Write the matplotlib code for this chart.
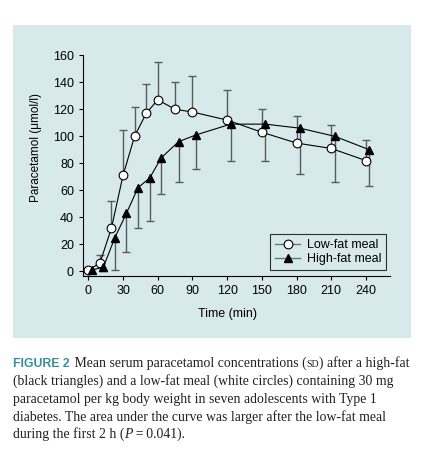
import numpy as np
import matplotlib
matplotlib.use('Agg')
import matplotlib.pyplot as plt
from matplotlib.patches import Rectangle

# sampling times (min)
times = np.array([0, 10, 20, 30, 40, 50, 60, 75, 90, 120, 150, 180, 210, 240])

# low-fat meal: mean and upper SD (umol/l)
low_fat_mean = np.array([1, 6, 32, 71, 100, 117, 127, 120, 118, 112, 103, 95, 91, 82])
low_fat_sd = np.array([0, 6, 20, 34, 22, 22, 28, 20, 27, 22, 17, 20, 17, 15])

# high-fat meal: mean and lower SD (umol/l)
high_fat_mean = np.array([1, 3, 25, 43, 62, 69, 84, 96, 101, 109, 109, 106, 100, 90])
high_fat_sd = np.array([0, 3, 24, 29, 30, 32, 27, 30, 25, 27, 27, 34, 34, 27])

xticks = [0, 30, 60, 90, 120, 150, 180, 210, 240]
yticks = [0, 20, 40, 60, 80, 100, 120, 140, 160]

W, H = 433, 469
fig = plt.figure(figsize=(W / 100, H / 100), dpi=100)
fig.patch.set_facecolor('white')

def fx(px):
    return px / W

def fy(py):
    return 1 - py / H

# light blue panel behind the chart
fig.patches.append(Rectangle((fx(13), fy(338)), fx(411) - fx(13), fy(25) - fy(338),
                             transform=fig.transFigure, facecolor='#d8e9ec',
                             edgecolor='none', zorder=-5))

plt.rcParams['font.family'] = ['Liberation Sans', 'DejaVu Sans']

ax = fig.add_axes([fx(83), fy(276), fx(390) - fx(83), fy(55.3) - fy(276)])
ax.set_facecolor('none')
ax.set_zorder(2)

dodge = 3  # high-fat points are drawn slightly to the right
err_col = '#545c5f'

# error bars (one-sided)
ax.vlines(times, low_fat_mean, low_fat_mean + low_fat_sd, color=err_col, lw=1.0, zorder=2)
ax.plot(times[low_fat_sd > 0], (low_fat_mean + low_fat_sd)[low_fat_sd > 0], ls='none',
        marker='_', ms=5.5, mew=1.0, color=err_col, zorder=2)
ax.vlines(times + dodge, high_fat_mean - high_fat_sd, high_fat_mean, color=err_col, lw=1.0, zorder=2)
ax.plot((times + dodge)[high_fat_sd > 0], (high_fat_mean - high_fat_sd)[high_fat_sd > 0], ls='none',
        marker='_', ms=5.5, mew=1.0, color=err_col, zorder=2)

ax.plot(times, low_fat_mean, '-', color='black', lw=0.8, marker='o', ms=6.3,
        mfc='white', mec='black', mew=0.8, zorder=3)
ax.plot(times + dodge, high_fat_mean, '-', color='black', lw=0.8, marker='^', ms=6,
        mfc='black', mec='black', zorder=3)

# legend handles (grey lines as in the figure)
h1, = ax.plot([], [], '-', color='#6b7375', lw=1.0, marker='o', ms=6.3, mfc='white', mec='black', mew=0.8)
h2, = ax.plot([], [], '-', color='#6b7375', lw=1.0, marker='^', ms=6, mfc='black', mec='black')
leg = ax.legend([h1, h2], ['Low-fat meal', 'High-fat meal'], loc='lower right',
                bbox_to_anchor=(0.987, 0.027), borderaxespad=0, fontsize=9,
                frameon=True, fancybox=False, handlelength=2.0, handletextpad=0.5,
                borderpad=0.4, labelspacing=0.15)
leg.get_frame().set_edgecolor('black')
leg.get_frame().set_linewidth(0.8)
leg.get_frame().set_facecolor('none')

ax.set_xlim(-4.6, 260.8)
ax.set_ylim(-3.5, 160)
ax.set_xticks(xticks)
ax.set_yticks(yticks)
ax.tick_params(labelsize=9, length=3, width=0.8, direction='out', pad=3.5)
for s in ['top', 'right']:
    ax.spines[s].set_visible(False)
for s in ['left', 'bottom']:
    ax.spines[s].set_linewidth(0.8)

ax.set_xlabel('Time (min)', fontsize=9)
ax.set_ylabel('Paracetamol (\u03bcmol/l)', fontsize=8.5)
ax.xaxis.set_label_coords((228 - 83) / 307, (276 - 308) / 220.7)
ax.yaxis.set_label_coords((42 - 83) / 307, (276 - 147) / 220.7)

# caption, placed piece by piece
serif = 'Liberation Serif'
cap_size = 9.9
caption = [
    [('FIGURE 2', dict(family='Liberation Sans', weight='bold', color='#3a8d9c', size=8.8)),
     ('\u2004Mean serum paracetamol concentrations (', dict(family=serif, size=cap_size)),
     ('SD', dict(family=serif, size=cap_size - 2.7)),
     (') after a high-fat', dict(family=serif, size=cap_size))],
    [('(black triangles) and a low-fat meal (white circles) containing 30 mg', dict(family=serif, size=cap_size))],
    [('paracetamol per kg body weight in seven adolescents with Type 1', dict(family=serif, size=cap_size))],
    [('diabetes. The area under the curve was larger after the low-fat meal', dict(family=serif, size=cap_size))],
    [('during the first 2 h (', dict(family=serif, size=cap_size)),
     ('P', dict(family=serif, style='italic', size=cap_size)),
     ('\u2009=\u20090.041).', dict(family=serif, size=cap_size))],
]
baselines = [367, 385, 402.5, 420.5, 438]

renderer = fig.canvas.get_renderer()
for pieces, base in zip(caption, baselines):
    x = 13
    for txt, kw in pieces:
        t = fig.text(fx(x), fy(base), txt, va='baseline', ha='left', color=kw.pop('color', '#231f20'),
                     fontfamily=kw.pop('family'), **{('font' + k): v for k, v in kw.items()})
        x += t.get_window_extent(renderer).width

fig.savefig('out.png', dpi=100)
